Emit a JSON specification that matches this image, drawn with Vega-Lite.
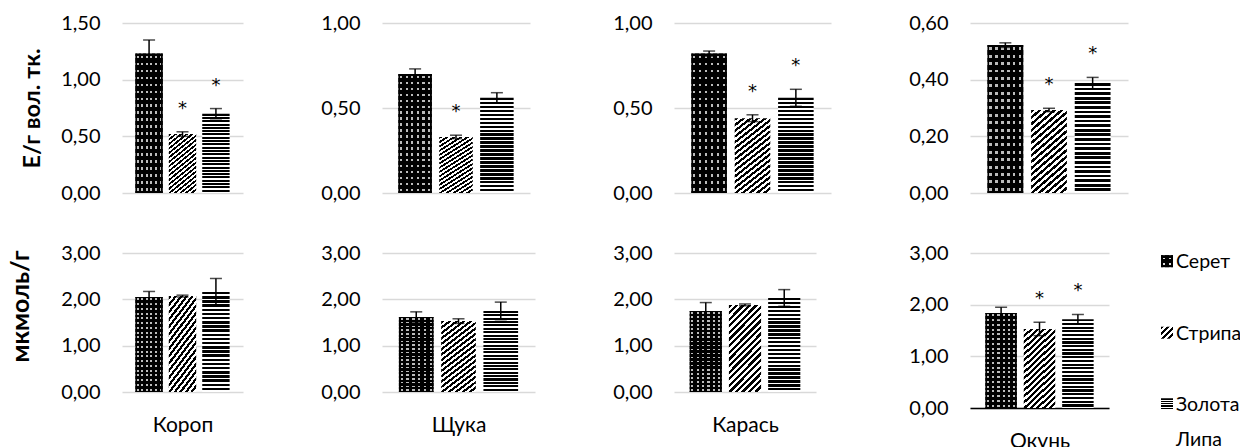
{
"$schema": "https://vega.github.io/schema/vega-lite/v6.json",
"background": "white",
"padding": {"left": 8, "top": 13, "right": 0, "bottom": 0},
"data": {"values": [
{"r":"t","f":"Короп","s":"Серет","v":1.23,"lo":1.11,"hi":1.35,"st":""},
{"r":"t","f":"Короп","s":"Стрипа","v":0.52,"lo":0.50,"hi":0.54,"st":"*"},
{"r":"t","f":"Короп","s":"Золота Липа","v":0.70,"lo":0.655,"hi":0.745,"st":"*"},
{"r":"t","f":"Щука","s":"Серет","v":0.70,"lo":0.67,"hi":0.73,"st":""},
{"r":"t","f":"Щука","s":"Стрипа","v":0.33,"lo":0.32,"hi":0.34,"st":"*"},
{"r":"t","f":"Щука","s":"Золота Липа","v":0.56,"lo":0.53,"hi":0.59,"st":""},
{"r":"t","f":"Карась","s":"Серет","v":0.82,"lo":0.805,"hi":0.835,"st":""},
{"r":"t","f":"Карась","s":"Стрипа","v":0.44,"lo":0.42,"hi":0.46,"st":"*"},
{"r":"t","f":"Карась","s":"Золота Липа","v":0.56,"lo":0.51,"hi":0.61,"st":"*"},
{"r":"t","f":"Окунь","s":"Серет","v":0.522,"lo":0.514,"hi":0.530,"st":""},
{"r":"t","f":"Окунь","s":"Стрипа","v":0.293,"lo":0.287,"hi":0.299,"st":"*"},
{"r":"t","f":"Окунь","s":"Золота Липа","v":0.388,"lo":0.368,"hi":0.408,"st":"*"},
{"r":"b","f":"Короп","s":"Серет","v":2.05,"lo":1.93,"hi":2.17,"st":""},
{"r":"b","f":"Короп","s":"Стрипа","v":2.07,"lo":2.05,"hi":2.09,"st":""},
{"r":"b","f":"Короп","s":"Золота Липа","v":2.16,"lo":1.87,"hi":2.45,"st":""},
{"r":"b","f":"Щука","s":"Серет","v":1.62,"lo":1.51,"hi":1.73,"st":""},
{"r":"b","f":"Щука","s":"Стрипа","v":1.53,"lo":1.48,"hi":1.58,"st":""},
{"r":"b","f":"Щука","s":"Золота Липа","v":1.75,"lo":1.56,"hi":1.94,"st":""},
{"r":"b","f":"Карась","s":"Серет","v":1.75,"lo":1.57,"hi":1.93,"st":""},
{"r":"b","f":"Карась","s":"Стрипа","v":1.88,"lo":1.86,"hi":1.90,"st":""},
{"r":"b","f":"Карась","s":"Золота Липа","v":2.03,"lo":1.85,"hi":2.21,"st":""},
{"r":"b","f":"Окунь","s":"Серет","v":1.84,"lo":1.73,"hi":1.95,"st":""},
{"r":"b","f":"Окунь","s":"Стрипа","v":1.53,"lo":1.40,"hi":1.66,"st":"*"},
{"r":"b","f":"Окунь","s":"Золота Липа","v":1.72,"lo":1.63,"hi":1.81,"st":"*"}
]},
"spacing": 77,
"hconcat": [
{"spacing": 40, "vconcat": [
 {"width": 121, "height": 170,
  "transform": [{"filter": "datum.r==='t' && datum.f==='Короп'"}],
  "encoding": {
   "x": {"field":"s","type":"nominal","scale":{"domain":["Серет","Стрипа","Золота Липа"],"paddingInner":0.18,"paddingOuter":0.4},"axis":null},
   "y": {"field":"v","type":"quantitative","scale":{"domain":[0,1.5],"nice":false},"axis":{"values":[0,0.5,1,1.5],"labelExpr":"replace(format(datum.value,'.2f'),'.',',')","title":"Е/г вол. тк.","titleFontSize":23.5,"titlePadding":16}}
  },
  "layer": [
   {"transform":[{"filter":"datum.s==='Серет'"}],"mark":{"type":"bar","style":"dotcol"}},
   {"transform":[{"filter":"datum.s==='Серет'"}],"mark":{"type":"bar","style":"dotrow"}},
   {"transform":[{"filter":"datum.s==='Стрипа'"}],"mark":{"type":"bar","style":"diag"}},
   {"transform":[{"filter":"datum.s==='Золота Липа'"}],"mark":{"type":"bar","style":"hstr"}},
   {"mark":{"type":"rule","color":"#000","strokeWidth":1.5},"encoding":{"y":{"field":"lo","type":"quantitative"},"y2":{"field":"hi"}}},
   {"mark":{"type":"tick","color":"#000","thickness":1.5,"size":12},"encoding":{"y":{"field":"lo","type":"quantitative"}}},
   {"mark":{"type":"tick","color":"#000","thickness":1.5,"size":12},"encoding":{"y":{"field":"hi","type":"quantitative"}}},
   {"transform":[{"filter":"datum.st==='*'"}],"mark":{"type":"text","font":"DejaVu Sans","fontSize":18,"dy":-23,"color":"#000","fill":"#000"},"encoding":{"y":{"field":"hi","type":"quantitative"},"text":{"field":"st"}}}
  ]},
 {"width": 121, "height": 139,
  "transform": [{"filter": "datum.r==='b' && datum.f==='Короп'"}],
  "encoding": {
   "x": {"field":"s","type":"nominal","scale":{"domain":["Серет","Стрипа","Золота Липа"],"paddingInner":0.18,"paddingOuter":0.4},"axis":{"labels":false,"title":"Короп"}},
   "y": {"field":"v","type":"quantitative","scale":{"domain":[0,3],"nice":false},"axis":{"values":[0,1,2,3],"labelExpr":"replace(format(datum.value,'.2f'),'.',',')","title":"мкмоль/г","titleFontSize":25,"titlePadding":27,"titleY":53}}
  },
  "layer": [
   {"transform":[{"filter":"datum.s==='Серет'"}],"mark":{"type":"bar","style":"dotcol"}},
   {"transform":[{"filter":"datum.s==='Серет'"}],"mark":{"type":"bar","style":"dotrow"}},
   {"transform":[{"filter":"datum.s==='Стрипа'"}],"mark":{"type":"bar","style":"diag"}},
   {"transform":[{"filter":"datum.s==='Золота Липа'"}],"mark":{"type":"bar","style":"hstr"}},
   {"mark":{"type":"rule","color":"#000","strokeWidth":1.5},"encoding":{"y":{"field":"lo","type":"quantitative"},"y2":{"field":"hi"}}},
   {"mark":{"type":"tick","color":"#000","thickness":1.5,"size":12},"encoding":{"y":{"field":"lo","type":"quantitative"}}},
   {"mark":{"type":"tick","color":"#000","thickness":1.5,"size":12},"encoding":{"y":{"field":"hi","type":"quantitative"}}},
   {"transform":[{"filter":"datum.st==='*'"}],"mark":{"type":"text","font":"DejaVu Sans","fontSize":18,"dy":-23,"color":"#000","fill":"#000"},"encoding":{"y":{"field":"hi","type":"quantitative"},"text":{"field":"st"}}}
  ]}
]},
{"spacing": 40, "vconcat": [
 {"width": 148, "height": 170,
  "transform": [{"filter": "datum.r==='t' && datum.f==='Щука'"}],
  "encoding": {
   "x": {"field":"s","type":"nominal","scale":{"domain":["Серет","Стрипа","Золота Липа"],"paddingInner":0.18,"paddingOuter":0.4},"axis":null},
   "y": {"field":"v","type":"quantitative","scale":{"domain":[0,1],"nice":false},"axis":{"values":[0,0.5,1],"labelExpr":"replace(format(datum.value,'.2f'),'.',',')","title":null}}
  },
  "layer": [
   {"transform":[{"filter":"datum.s==='Серет'"}],"mark":{"type":"bar","style":"dotcol"}},
   {"transform":[{"filter":"datum.s==='Серет'"}],"mark":{"type":"bar","style":"dotrow"}},
   {"transform":[{"filter":"datum.s==='Стрипа'"}],"mark":{"type":"bar","style":"diag"}},
   {"transform":[{"filter":"datum.s==='Золота Липа'"}],"mark":{"type":"bar","style":"hstr"}},
   {"mark":{"type":"rule","color":"#000","strokeWidth":1.5},"encoding":{"y":{"field":"lo","type":"quantitative"},"y2":{"field":"hi"}}},
   {"mark":{"type":"tick","color":"#000","thickness":1.5,"size":12},"encoding":{"y":{"field":"lo","type":"quantitative"}}},
   {"mark":{"type":"tick","color":"#000","thickness":1.5,"size":12},"encoding":{"y":{"field":"hi","type":"quantitative"}}},
   {"transform":[{"filter":"datum.st==='*'"}],"mark":{"type":"text","font":"DejaVu Sans","fontSize":18,"dy":-23,"color":"#000","fill":"#000"},"encoding":{"y":{"field":"hi","type":"quantitative"},"text":{"field":"st"}}}
  ]},
 {"width": 153, "height": 139,
  "transform": [{"filter": "datum.r==='b' && datum.f==='Щука'"}],
  "encoding": {
   "x": {"field":"s","type":"nominal","scale":{"domain":["Серет","Стрипа","Золота Липа"],"paddingInner":0.18,"paddingOuter":0.4},"axis":{"labels":false,"title":"Щука"}},
   "y": {"field":"v","type":"quantitative","scale":{"domain":[0,3],"nice":false},"axis":{"values":[0,1,2,3],"labelExpr":"replace(format(datum.value,'.2f'),'.',',')","title":null}}
  },
  "layer": [
   {"transform":[{"filter":"datum.s==='Серет'"}],"mark":{"type":"bar","style":"dotcol"}},
   {"transform":[{"filter":"datum.s==='Серет'"}],"mark":{"type":"bar","style":"dotrow"}},
   {"transform":[{"filter":"datum.s==='Стрипа'"}],"mark":{"type":"bar","style":"diag"}},
   {"transform":[{"filter":"datum.s==='Золота Липа'"}],"mark":{"type":"bar","style":"hstr"}},
   {"mark":{"type":"rule","color":"#000","strokeWidth":1.5},"encoding":{"y":{"field":"lo","type":"quantitative"},"y2":{"field":"hi"}}},
   {"mark":{"type":"tick","color":"#000","thickness":1.5,"size":12},"encoding":{"y":{"field":"lo","type":"quantitative"}}},
   {"mark":{"type":"tick","color":"#000","thickness":1.5,"size":12},"encoding":{"y":{"field":"hi","type":"quantitative"}}},
   {"transform":[{"filter":"datum.st==='*'"}],"mark":{"type":"text","font":"DejaVu Sans","fontSize":18,"dy":-23,"color":"#000","fill":"#000"},"encoding":{"y":{"field":"hi","type":"quantitative"},"text":{"field":"st"}}}
  ]}
]},
{"spacing": 40, "vconcat": [
 {"width": 157, "height": 170,
  "transform": [{"filter": "datum.r==='t' && datum.f==='Карась'"}],
  "encoding": {
   "x": {"field":"s","type":"nominal","scale":{"domain":["Серет","Стрипа","Золота Липа"],"paddingInner":0.18,"paddingOuter":0.4},"axis":null},
   "y": {"field":"v","type":"quantitative","scale":{"domain":[0,1],"nice":false},"axis":{"values":[0,0.5,1],"labelExpr":"replace(format(datum.value,'.2f'),'.',',')","title":null}}
  },
  "layer": [
   {"transform":[{"filter":"datum.s==='Серет'"}],"mark":{"type":"bar","style":"dotcol"}},
   {"transform":[{"filter":"datum.s==='Серет'"}],"mark":{"type":"bar","style":"dotrow"}},
   {"transform":[{"filter":"datum.s==='Стрипа'"}],"mark":{"type":"bar","style":"diag"}},
   {"transform":[{"filter":"datum.s==='Золота Липа'"}],"mark":{"type":"bar","style":"hstr"}},
   {"mark":{"type":"rule","color":"#000","strokeWidth":1.5},"encoding":{"y":{"field":"lo","type":"quantitative"},"y2":{"field":"hi"}}},
   {"mark":{"type":"tick","color":"#000","thickness":1.5,"size":12},"encoding":{"y":{"field":"lo","type":"quantitative"}}},
   {"mark":{"type":"tick","color":"#000","thickness":1.5,"size":12},"encoding":{"y":{"field":"hi","type":"quantitative"}}},
   {"transform":[{"filter":"datum.st==='*'"}],"mark":{"type":"text","font":"DejaVu Sans","fontSize":18,"dy":-23,"color":"#000","fill":"#000"},"encoding":{"y":{"field":"hi","type":"quantitative"},"text":{"field":"st"}}}
  ]},
 {"width": 142, "height": 139,
  "transform": [{"filter": "datum.r==='b' && datum.f==='Карась'"}],
  "encoding": {
   "x": {"field":"s","type":"nominal","scale":{"domain":["Серет","Стрипа","Золота Липа"],"paddingInner":0.18,"paddingOuter":0.4},"axis":{"labels":false,"title":"Карась"}},
   "y": {"field":"v","type":"quantitative","scale":{"domain":[0,3],"nice":false},"axis":{"values":[0,1,2,3],"labelExpr":"replace(format(datum.value,'.2f'),'.',',')","title":null}}
  },
  "layer": [
   {"transform":[{"filter":"datum.s==='Серет'"}],"mark":{"type":"bar","style":"dotcol"}},
   {"transform":[{"filter":"datum.s==='Серет'"}],"mark":{"type":"bar","style":"dotrow"}},
   {"transform":[{"filter":"datum.s==='Стрипа'"}],"mark":{"type":"bar","style":"diag"}},
   {"transform":[{"filter":"datum.s==='Золота Липа'"}],"mark":{"type":"bar","style":"hstr"}},
   {"mark":{"type":"rule","color":"#000","strokeWidth":1.5},"encoding":{"y":{"field":"lo","type":"quantitative"},"y2":{"field":"hi"}}},
   {"mark":{"type":"tick","color":"#000","thickness":1.5,"size":12},"encoding":{"y":{"field":"lo","type":"quantitative"}}},
   {"mark":{"type":"tick","color":"#000","thickness":1.5,"size":12},"encoding":{"y":{"field":"hi","type":"quantitative"}}},
   {"transform":[{"filter":"datum.st==='*'"}],"mark":{"type":"text","font":"DejaVu Sans","fontSize":18,"dy":-23,"color":"#000","fill":"#000"},"encoding":{"y":{"field":"hi","type":"quantitative"},"text":{"field":"st"}}}
  ]}
]},
{"spacing": 33, "hconcat": [
 {"spacing": 40, "vconcat": [
  {"width": 158, "height": 170,
   "transform": [{"filter": "datum.r==='t' && datum.f==='Окунь'"}],
   "encoding": {
    "x": {"field":"s","type":"nominal","scale":{"domain":["Серет","Стрипа","Золота Липа"],"paddingInner":0.18,"paddingOuter":0.4},"axis":null},
    "y": {"field":"v","type":"quantitative","scale":{"domain":[0,0.6],"nice":false},"axis":{"values":[0,0.2,0.4,0.6],"labelExpr":"replace(format(datum.value,'.2f'),'.',',')","title":null}}
   },
   "layer": [
    {"transform":[{"filter":"datum.s==='Серет'"}],"mark":{"type":"bar","style":"dotcol"}},
    {"transform":[{"filter":"datum.s==='Серет'"}],"mark":{"type":"bar","style":"dotrow"}},
    {"transform":[{"filter":"datum.s==='Стрипа'"}],"mark":{"type":"bar","style":"diag"}},
    {"transform":[{"filter":"datum.s==='Золота Липа'"}],"mark":{"type":"bar","style":"hstr"}},
    {"mark":{"type":"rule","color":"#000","strokeWidth":1.5},"encoding":{"y":{"field":"lo","type":"quantitative"},"y2":{"field":"hi"}}},
    {"mark":{"type":"tick","color":"#000","thickness":1.5,"size":12},"encoding":{"y":{"field":"lo","type":"quantitative"}}},
    {"mark":{"type":"tick","color":"#000","thickness":1.5,"size":12},"encoding":{"y":{"field":"hi","type":"quantitative"}}},
    {"transform":[{"filter":"datum.st==='*'"}],"mark":{"type":"text","font":"DejaVu Sans","fontSize":18,"dy":-23,"color":"#000","fill":"#000"},"encoding":{"y":{"field":"hi","type":"quantitative"},"text":{"field":"st"}}}
   ]},
  {"width": 139, "height": 155,
   "transform": [{"filter": "datum.r==='b' && datum.f==='Окунь'"}],
   "encoding": {
    "x": {"field":"s","type":"nominal","scale":{"domain":["Серет","Стрипа","Золота Липа"],"paddingInner":0.18,"paddingOuter":0.4},"axis":{"labels":false,"title":"Окунь","domain":true,"domainColor":"#000","domainWidth":1.5}},
    "y": {"field":"v","type":"quantitative","scale":{"domain":[0,3],"nice":false},"axis":{"values":[0,1,2,3],"labelExpr":"replace(format(datum.value,'.2f'),'.',',')","title":null}}
   },
   "layer": [
    {"transform":[{"filter":"datum.s==='Серет'"}],"mark":{"type":"bar","style":"dotcol"}},
    {"transform":[{"filter":"datum.s==='Серет'"}],"mark":{"type":"bar","style":"dotrow"}},
    {"transform":[{"filter":"datum.s==='Стрипа'"}],"mark":{"type":"bar","style":"diag"}},
    {"transform":[{"filter":"datum.s==='Золота Липа'"}],"mark":{"type":"bar","style":"hstr"}},
    {"mark":{"type":"rule","color":"#000","strokeWidth":1.5},"encoding":{"y":{"field":"lo","type":"quantitative"},"y2":{"field":"hi"}}},
    {"mark":{"type":"tick","color":"#000","thickness":1.5,"size":12},"encoding":{"y":{"field":"lo","type":"quantitative"}}},
    {"mark":{"type":"tick","color":"#000","thickness":1.5,"size":12},"encoding":{"y":{"field":"hi","type":"quantitative"}}},
    {"transform":[{"filter":"datum.st==='*'"}],"mark":{"type":"text","font":"DejaVu Sans","fontSize":18,"dy":-23,"color":"#000","fill":"#000"},"encoding":{"y":{"field":"hi","type":"quantitative"},"text":{"field":"st"}}}
   ]}
 ]},
 {"width": 12, "height": 417,
  "data": {"values": [{"k":"Серет","lab":"Серет"},{"k":"Стрипа","lab":"Стрипа"},{"k":"Золота Липа","lab":"Золота\nЛипа"}]},
  "encoding": {"y": {"field":"k","type":"nominal","scale":{"domain":["_a","_b","Серет","Стрипа","Золота Липа"],"paddingInner":0,"paddingOuter":0.415,"align":1},"axis":null}},
  "layer": [
   {"transform":[{"filter":"datum.k==='Серет'"}],"mark":{"type":"bar","height":12,"style":"ldotcol"}},
   {"transform":[{"filter":"datum.k==='Серет'"}],"mark":{"type":"bar","height":12,"style":"ldotrow"}},
   {"transform":[{"filter":"datum.k==='Стрипа'"}],"mark":{"type":"bar","height":12,"style":"ldiag"}},
   {"transform":[{"filter":"datum.k==='Золота Липа'"}],"mark":{"type":"bar","height":12,"style":"lhstr"}},
   {"mark":{"type":"text","align":"left","baseline":"alphabetic","dx":9,"dy":7,"fontSize":19.5,"lineBreak":"\n","lineHeight":35,"color":"#000"},"encoding":{"text":{"field":"lab"}}}
  ]}
]}
],
"config": {
 "font": "Lato",
 "view": {"stroke": null},
 "axis": {"labelFont":"Lato","labelFontSize":20,"labelColor":"#000","titleFont":"Lato","titleColor":"#000","domain":false,"ticks":false},
 "axisY": {"labelPadding":22,"titleFontWeight":"bold","gridColor":"#d9d9d9","gridWidth":1.3},
 "axisX": {"grid":false,"titleFontWeight":"normal","titleFontSize":21,"titlePadding":22},
 "text": {"font":"Lato"},
 "style": {
  "dotcol": {"color": {"gradient":"linear","x1":0,"y1":0,"x2":1,"y2":0,"stops":[
   {"offset":0,"color":"#000"},{"offset":0.05,"color":"#000"},{"offset":0.05,"color":"#bbb"},{"offset":0.1167,"color":"#bbb"},{"offset":0.1167,"color":"#000"},
   {"offset":0.2167,"color":"#000"},{"offset":0.2167,"color":"#bbb"},{"offset":0.2833,"color":"#bbb"},{"offset":0.2833,"color":"#000"},
   {"offset":0.3833,"color":"#000"},{"offset":0.3833,"color":"#bbb"},{"offset":0.45,"color":"#bbb"},{"offset":0.45,"color":"#000"},
   {"offset":0.55,"color":"#000"},{"offset":0.55,"color":"#bbb"},{"offset":0.6167,"color":"#bbb"},{"offset":0.6167,"color":"#000"},
   {"offset":0.7167,"color":"#000"},{"offset":0.7167,"color":"#bbb"},{"offset":0.7833,"color":"#bbb"},{"offset":0.7833,"color":"#000"},
   {"offset":0.8833,"color":"#000"},{"offset":0.8833,"color":"#bbb"},{"offset":0.95,"color":"#bbb"},{"offset":0.95,"color":"#000"},{"offset":1,"color":"#000"}]}},
  "dotrow": {"color": {"gradient":"linear","x1":0,"y1":0,"x2":0,"y2":1,"stops":[
   {"offset":0,"color":"#000"},
   {"offset":0.015,"color":"#000"},{"offset":0.015,"color":"#0000"},{"offset":0.035,"color":"#0000"},{"offset":0.035,"color":"#000"},
   {"offset":0.065,"color":"#000"},{"offset":0.065,"color":"#0000"},{"offset":0.085,"color":"#0000"},{"offset":0.085,"color":"#000"},
   {"offset":0.115,"color":"#000"},{"offset":0.115,"color":"#0000"},{"offset":0.135,"color":"#0000"},{"offset":0.135,"color":"#000"},
   {"offset":0.165,"color":"#000"},{"offset":0.165,"color":"#0000"},{"offset":0.185,"color":"#0000"},{"offset":0.185,"color":"#000"},
   {"offset":0.215,"color":"#000"},{"offset":0.215,"color":"#0000"},{"offset":0.235,"color":"#0000"},{"offset":0.235,"color":"#000"},
   {"offset":0.265,"color":"#000"},{"offset":0.265,"color":"#0000"},{"offset":0.285,"color":"#0000"},{"offset":0.285,"color":"#000"},
   {"offset":0.315,"color":"#000"},{"offset":0.315,"color":"#0000"},{"offset":0.335,"color":"#0000"},{"offset":0.335,"color":"#000"},
   {"offset":0.365,"color":"#000"},{"offset":0.365,"color":"#0000"},{"offset":0.385,"color":"#0000"},{"offset":0.385,"color":"#000"},
   {"offset":0.415,"color":"#000"},{"offset":0.415,"color":"#0000"},{"offset":0.435,"color":"#0000"},{"offset":0.435,"color":"#000"},
   {"offset":0.465,"color":"#000"},{"offset":0.465,"color":"#0000"},{"offset":0.485,"color":"#0000"},{"offset":0.485,"color":"#000"},
   {"offset":0.515,"color":"#000"},{"offset":0.515,"color":"#0000"},{"offset":0.535,"color":"#0000"},{"offset":0.535,"color":"#000"},
   {"offset":0.565,"color":"#000"},{"offset":0.565,"color":"#0000"},{"offset":0.585,"color":"#0000"},{"offset":0.585,"color":"#000"},
   {"offset":0.615,"color":"#000"},{"offset":0.615,"color":"#0000"},{"offset":0.635,"color":"#0000"},{"offset":0.635,"color":"#000"},
   {"offset":0.665,"color":"#000"},{"offset":0.665,"color":"#0000"},{"offset":0.685,"color":"#0000"},{"offset":0.685,"color":"#000"},
   {"offset":0.715,"color":"#000"},{"offset":0.715,"color":"#0000"},{"offset":0.735,"color":"#0000"},{"offset":0.735,"color":"#000"},
   {"offset":0.765,"color":"#000"},{"offset":0.765,"color":"#0000"},{"offset":0.785,"color":"#0000"},{"offset":0.785,"color":"#000"},
   {"offset":0.815,"color":"#000"},{"offset":0.815,"color":"#0000"},{"offset":0.835,"color":"#0000"},{"offset":0.835,"color":"#000"},
   {"offset":0.865,"color":"#000"},{"offset":0.865,"color":"#0000"},{"offset":0.885,"color":"#0000"},{"offset":0.885,"color":"#000"},
   {"offset":0.915,"color":"#000"},{"offset":0.915,"color":"#0000"},{"offset":0.935,"color":"#0000"},{"offset":0.935,"color":"#000"},
   {"offset":0.965,"color":"#000"},{"offset":0.965,"color":"#0000"},{"offset":0.985,"color":"#0000"},{"offset":0.985,"color":"#000"},
   {"offset":1,"color":"#000"}]}},
  "diag": {"color": {"gradient":"linear","x1":0,"y1":0,"x2":0.45,"y2":1.2,"stops":[
   {"offset":0,"color":"#000"},{"offset":0.0278,"color":"#000"},{"offset":0.0278,"color":"#fff"},{"offset":0.0556,"color":"#fff"},
   {"offset":0.0556,"color":"#000"},{"offset":0.0833,"color":"#000"},{"offset":0.0833,"color":"#fff"},{"offset":0.1111,"color":"#fff"},
   {"offset":0.1111,"color":"#000"},{"offset":0.1389,"color":"#000"},{"offset":0.1389,"color":"#fff"},{"offset":0.1667,"color":"#fff"},
   {"offset":0.1667,"color":"#000"},{"offset":0.1944,"color":"#000"},{"offset":0.1944,"color":"#fff"},{"offset":0.2222,"color":"#fff"},
   {"offset":0.2222,"color":"#000"},{"offset":0.25,"color":"#000"},{"offset":0.25,"color":"#fff"},{"offset":0.2778,"color":"#fff"},
   {"offset":0.2778,"color":"#000"},{"offset":0.3056,"color":"#000"},{"offset":0.3056,"color":"#fff"},{"offset":0.3333,"color":"#fff"},
   {"offset":0.3333,"color":"#000"},{"offset":0.3611,"color":"#000"},{"offset":0.3611,"color":"#fff"},{"offset":0.3889,"color":"#fff"},
   {"offset":0.3889,"color":"#000"},{"offset":0.4167,"color":"#000"},{"offset":0.4167,"color":"#fff"},{"offset":0.4444,"color":"#fff"},
   {"offset":0.4444,"color":"#000"},{"offset":0.4722,"color":"#000"},{"offset":0.4722,"color":"#fff"},{"offset":0.5,"color":"#fff"},
   {"offset":0.5,"color":"#000"},{"offset":0.5278,"color":"#000"},{"offset":0.5278,"color":"#fff"},{"offset":0.5556,"color":"#fff"},
   {"offset":0.5556,"color":"#000"},{"offset":0.5833,"color":"#000"},{"offset":0.5833,"color":"#fff"},{"offset":0.6111,"color":"#fff"},
   {"offset":0.6111,"color":"#000"},{"offset":0.6389,"color":"#000"},{"offset":0.6389,"color":"#fff"},{"offset":0.6667,"color":"#fff"},
   {"offset":0.6667,"color":"#000"},{"offset":0.6944,"color":"#000"},{"offset":0.6944,"color":"#fff"},{"offset":0.7222,"color":"#fff"},
   {"offset":0.7222,"color":"#000"},{"offset":0.75,"color":"#000"},{"offset":0.75,"color":"#fff"},{"offset":0.7778,"color":"#fff"},
   {"offset":0.7778,"color":"#000"},{"offset":0.8056,"color":"#000"},{"offset":0.8056,"color":"#fff"},{"offset":0.8333,"color":"#fff"},
   {"offset":0.8333,"color":"#000"},{"offset":0.8611,"color":"#000"},{"offset":0.8611,"color":"#fff"},{"offset":0.8889,"color":"#fff"},
   {"offset":0.8889,"color":"#000"},{"offset":0.9167,"color":"#000"},{"offset":0.9167,"color":"#fff"},{"offset":0.9444,"color":"#fff"},
   {"offset":0.9444,"color":"#000"},{"offset":0.9722,"color":"#000"},{"offset":0.9722,"color":"#fff"},{"offset":1,"color":"#fff"}]}},
  "hstr": {"color": {"gradient":"linear","x1":0,"y1":0,"x2":0,"y2":1,"stops":[
   {"offset":0,"color":"#000"},{"offset":0.025,"color":"#000"},{"offset":0.025,"color":"#fff"},{"offset":0.0417,"color":"#fff"},
   {"offset":0.0417,"color":"#000"},{"offset":0.0667,"color":"#000"},{"offset":0.0667,"color":"#fff"},{"offset":0.0833,"color":"#fff"},
   {"offset":0.0833,"color":"#000"},{"offset":0.1083,"color":"#000"},{"offset":0.1083,"color":"#fff"},{"offset":0.125,"color":"#fff"},
   {"offset":0.125,"color":"#000"},{"offset":0.15,"color":"#000"},{"offset":0.15,"color":"#fff"},{"offset":0.1667,"color":"#fff"},
   {"offset":0.1667,"color":"#000"},{"offset":0.1917,"color":"#000"},{"offset":0.1917,"color":"#fff"},{"offset":0.2083,"color":"#fff"},
   {"offset":0.2083,"color":"#000"},{"offset":0.2333,"color":"#000"},{"offset":0.2333,"color":"#fff"},{"offset":0.25,"color":"#fff"},
   {"offset":0.25,"color":"#000"},{"offset":0.275,"color":"#000"},{"offset":0.275,"color":"#fff"},{"offset":0.2917,"color":"#fff"},
   {"offset":0.2917,"color":"#000"},{"offset":0.3167,"color":"#000"},{"offset":0.3167,"color":"#fff"},{"offset":0.3333,"color":"#fff"},
   {"offset":0.3333,"color":"#000"},{"offset":0.3583,"color":"#000"},{"offset":0.3583,"color":"#fff"},{"offset":0.375,"color":"#fff"},
   {"offset":0.375,"color":"#000"},{"offset":0.4,"color":"#000"},{"offset":0.4,"color":"#fff"},{"offset":0.4167,"color":"#fff"},
   {"offset":0.4167,"color":"#000"},{"offset":0.4417,"color":"#000"},{"offset":0.4417,"color":"#fff"},{"offset":0.4583,"color":"#fff"},
   {"offset":0.4583,"color":"#000"},{"offset":0.4833,"color":"#000"},{"offset":0.4833,"color":"#fff"},{"offset":0.5,"color":"#fff"},
   {"offset":0.5,"color":"#000"},{"offset":0.525,"color":"#000"},{"offset":0.525,"color":"#fff"},{"offset":0.5417,"color":"#fff"},
   {"offset":0.5417,"color":"#000"},{"offset":0.5667,"color":"#000"},{"offset":0.5667,"color":"#fff"},{"offset":0.5833,"color":"#fff"},
   {"offset":0.5833,"color":"#000"},{"offset":0.6083,"color":"#000"},{"offset":0.6083,"color":"#fff"},{"offset":0.625,"color":"#fff"},
   {"offset":0.625,"color":"#000"},{"offset":0.65,"color":"#000"},{"offset":0.65,"color":"#fff"},{"offset":0.6667,"color":"#fff"},
   {"offset":0.6667,"color":"#000"},{"offset":0.6917,"color":"#000"},{"offset":0.6917,"color":"#fff"},{"offset":0.7083,"color":"#fff"},
   {"offset":0.7083,"color":"#000"},{"offset":0.7333,"color":"#000"},{"offset":0.7333,"color":"#fff"},{"offset":0.75,"color":"#fff"},
   {"offset":0.75,"color":"#000"},{"offset":0.775,"color":"#000"},{"offset":0.775,"color":"#fff"},{"offset":0.7917,"color":"#fff"},
   {"offset":0.7917,"color":"#000"},{"offset":0.8167,"color":"#000"},{"offset":0.8167,"color":"#fff"},{"offset":0.8333,"color":"#fff"},
   {"offset":0.8333,"color":"#000"},{"offset":0.8583,"color":"#000"},{"offset":0.8583,"color":"#fff"},{"offset":0.875,"color":"#fff"},
   {"offset":0.875,"color":"#000"},{"offset":0.9,"color":"#000"},{"offset":0.9,"color":"#fff"},{"offset":0.9167,"color":"#fff"},
   {"offset":0.9167,"color":"#000"},{"offset":0.9417,"color":"#000"},{"offset":0.9417,"color":"#fff"},{"offset":0.9583,"color":"#fff"},
   {"offset":0.9583,"color":"#000"},{"offset":0.9833,"color":"#000"},{"offset":0.9833,"color":"#fff"},{"offset":1,"color":"#fff"}]}},
  "ldotcol": {"color": {"gradient":"linear","x1":0,"y1":0,"x2":1,"y2":0,"stops":[
   {"offset":0,"color":"#000"},{"offset":0.2,"color":"#000"},{"offset":0.2,"color":"#ddd"},{"offset":0.35,"color":"#ddd"},{"offset":0.35,"color":"#000"},
   {"offset":0.65,"color":"#000"},{"offset":0.65,"color":"#ddd"},{"offset":0.8,"color":"#ddd"},{"offset":0.8,"color":"#000"},{"offset":1,"color":"#000"}]}},
  "ldotrow": {"color": {"gradient":"linear","x1":0,"y1":0,"x2":0,"y2":1,"stops":[
   {"offset":0,"color":"#000"},{"offset":0.2,"color":"#000"},{"offset":0.2,"color":"#0000"},{"offset":0.35,"color":"#0000"},{"offset":0.35,"color":"#000"},
   {"offset":0.65,"color":"#000"},{"offset":0.65,"color":"#0000"},{"offset":0.8,"color":"#0000"},{"offset":0.8,"color":"#000"},{"offset":1,"color":"#000"}]}},
  "ldiag": {"color": {"gradient":"linear","x1":0,"y1":0,"x2":1,"y2":1,"stops":[
   {"offset":0,"color":"#000"},{"offset":0.125,"color":"#000"},{"offset":0.125,"color":"#fff"},{"offset":0.25,"color":"#fff"},
   {"offset":0.25,"color":"#000"},{"offset":0.375,"color":"#000"},{"offset":0.375,"color":"#fff"},{"offset":0.5,"color":"#fff"},
   {"offset":0.5,"color":"#000"},{"offset":0.625,"color":"#000"},{"offset":0.625,"color":"#fff"},{"offset":0.75,"color":"#fff"},
   {"offset":0.75,"color":"#000"},{"offset":0.875,"color":"#000"},{"offset":0.875,"color":"#fff"},{"offset":1,"color":"#fff"}]}},
  "lhstr": {"color": {"gradient":"linear","x1":0,"y1":0,"x2":0,"y2":1,"stops":[
   {"offset":0,"color":"#000"},{"offset":0.12,"color":"#000"},{"offset":0.12,"color":"#fff"},{"offset":0.2,"color":"#fff"},
   {"offset":0.2,"color":"#000"},{"offset":0.32,"color":"#000"},{"offset":0.32,"color":"#fff"},{"offset":0.4,"color":"#fff"},
   {"offset":0.4,"color":"#000"},{"offset":0.52,"color":"#000"},{"offset":0.52,"color":"#fff"},{"offset":0.6,"color":"#fff"},
   {"offset":0.6,"color":"#000"},{"offset":0.72,"color":"#000"},{"offset":0.72,"color":"#fff"},{"offset":0.8,"color":"#fff"},
   {"offset":0.8,"color":"#000"},{"offset":0.92,"color":"#000"},{"offset":0.92,"color":"#fff"},{"offset":1,"color":"#fff"}]}}
 }
}
}
